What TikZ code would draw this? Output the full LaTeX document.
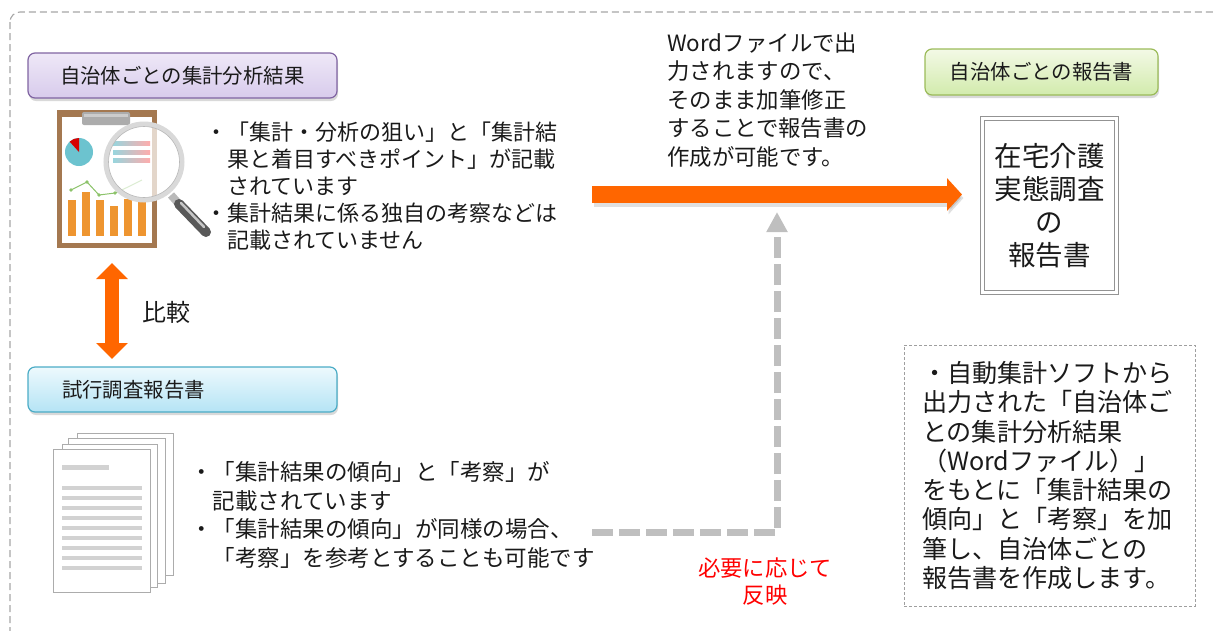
\documentclass[tikz,border=0pt]{standalone}
\usepackage{fontspec}
\newfontfamily\jp{Noto Sans CJK JP}
\usetikzlibrary{arrows.meta,shadows,calc}

\definecolor{orangeA}{HTML}{FF6600}
\definecolor{frameG}{HTML}{A6A6A6}
\definecolor{connG}{HTML}{BFBFBF}
\definecolor{purpB}{HTML}{8064A2}
\definecolor{purpT}{HTML}{EEE8F7}
\definecolor{purpM}{HTML}{D8CBEC}
\definecolor{blueB}{HTML}{4BACC6}
\definecolor{blueT}{HTML}{EDF9FD}
\definecolor{blueM}{HTML}{B5E4F5}
\definecolor{grnB}{HTML}{9BBB59}
\definecolor{grnT}{HTML}{F3F9E6}
\definecolor{grnM}{HTML}{D2EBAC}
\definecolor{boardC}{HTML}{A47850}
\definecolor{barC}{HTML}{EE9530}
\definecolor{pieC}{HTML}{6CC3CF}
\definecolor{lineC}{HTML}{8CC36A}
\definecolor{inkC}{HTML}{1A1A1A}

\tikzset{
  frame/.style={draw=frameG, line width=1.1pt, dash pattern=on 7pt off 4pt, rounded corners=10pt},
  titlebox/.style={rounded corners=7pt, line width=1.2pt, minimum height=45pt,
    drop shadow={shadow xshift=1pt, shadow yshift=-3pt, opacity=0.3},
    font=\jp\fontsize{20.4}{24}\selectfont, text=inkC},
  bodytxt/.style={inner sep=0pt, align=left, text=inkC},
  bigarrow/.style={line width=#1, orangeA},
  page/.style={fill=white, draw=gray!65, line width=0.8pt},
  pageline/.style={fill=gray!35},
}

\begin{document}
\begin{tikzpicture}[x=1pt, y=-1pt]
\useasboundingbox (0,0) rectangle (1214,630);
\clip (0,0) rectangle (1214,630);

% outer dashed frame
\draw[frame] (10,12) rectangle (1240,660);

% ---- title boxes
\node[titlebox, draw=purpB, top color=purpT, bottom color=purpM,
      inner xsep=32pt, text width=245pt, align=left] (tA) at (182.5,75.5) {自治体ごとの集計分析結果};
\node[titlebox, draw=blueB, top color=blueT, bottom color=blueM,
      inner xsep=34pt, text width=241pt, align=left] (tB) at (182.5,389.5) {試行調査報告書};
\node[titlebox, draw=grnB, top color=grnT, bottom color=grnM,
      minimum width=233pt, minimum height=46pt] (tC) at (1041.5,72) {自治体ごとの報告書};

% ---- clipboard with charts and magnifier
\fill[boardC] (57,110) rectangle (157,248);
\fill[white] (62,117) rectangle (152,243);
\fill[gray!65, rounded corners=2pt] (82,112) rectangle (130,125);
\fill[gray!40] (84,114) rectangle (128,117);
\fill[pieC] (79,152) circle (14);
\fill[red!85!black] (79,152) -- ++(270:14) arc[start angle=270, end angle=228, radius=14] -- cycle;
\foreach \xa/\xb/\yt in {68/76/200, 82/90/192, 96/104/200, 110/118/206, 124/132/199, 138/146/202}
  \fill[barC] (\xa,\yt) rectangle (\xb,236);
\draw[lineC, line width=1pt] (71,190) -- (87,182) -- (99,195) -- (115,193) -- (128,187) -- (142,180);
\foreach \p in {(71,190),(87,182),(99,195),(115,193)}
  \fill[lineC] \p circle (1.8);
% magnifier
\draw[gray!55, line width=8pt] (171,195) -- (179,204);
\draw[gray!70!black, line width=10pt, line cap=round] (179,204) -- (206,232);
\draw[gray!45, line width=2.5pt, line cap=round] (181,203) -- (204,227);
\fill[white, opacity=0.7] (144,162) circle (38);
\shade[left color=pieC!70, right color=pink!90!red] (113,141) rectangle (150,145);
\shade[left color=pieC!70, right color=pink!90!red] (113,150) rectangle (150,154);
\shade[left color=pieC!70, right color=pink!90!red] (113,158) rectangle (150,162);
\draw[gray!30, line width=5pt] (144,162) circle (38);
\draw[gray!55, line width=0.6pt] (144,162) circle (35.5);

% ---- stacked report pages
\filldraw[page] (77,433) rectangle (173,575);
\filldraw[page] (68,438) rectangle (165,583);
\filldraw[page] (62,444) rectangle (157,587);
\filldraw[page] (53,449) rectangle (150,592);
\fill[pageline] (62,465) rectangle (109,470);
\foreach \yy in {486,496,506,516,526,536,546,556,566}
  \fill[pageline] (62,\yy) rectangle (142,\yy+4);

% ---- text blocks
\node[bodytxt, anchor=west, font=\jp\fontsize{22}{27}\selectfont] (tx1) at (205,186)
  {・「集計・分析の狙い」と「集計結\\\hspace*{1em}果と着目すべきポイント」が記載\\\hspace*{1em}されています\\・集計結果に係る独自の考察などは\\\hspace*{1em}記載されていません};
\node[bodytxt, anchor=west, font=\jp\fontsize{22.5}{28.7}\selectfont] (tx2) at (190,515)
  {・「集計結果の傾向」と「考察」が\\\hspace*{1em}記載されています\\・「集計結果の傾向」が同様の場合、\\\hspace*{1em}「考察」を参考とすることも可能です};
\node[bodytxt, anchor=west, font=\jp\fontsize{22.4}{28.5}\selectfont] (tx3) at (667,100)
  {Wordファイルで出\\力されますので、\\そのまま加筆修正\\することで報告書の\\作成が可能です。};
\node[bodytxt, font=\jp\fontsize{24}{28}\selectfont] (cmp) at (166,312) {比較};
\node[bodytxt, align=center, text=red, font=\jp\fontsize{22.3}{27}\selectfont] (refl) at (765,582) {必要に応じて\\反映};

% ---- final report box
\node[draw=gray!85, double, double distance=3pt, line width=0.8pt,
      minimum width=134pt, minimum height=174pt, align=center, text=inkC,
      font=\jp\fontsize{27.5}{33}\selectfont] (rep) at (1049.5,205.5)
  {在宅介護\\実態調査\\の\\報告書};

% ---- note box
\node[draw=gray!75, line width=0.9pt, dash pattern=on 3pt off 2pt,
      minimum height=261pt, inner xsep=18pt, text width=255pt, align=left, text=inkC,
      font=\jp\fontsize{25.1}{29.3}\selectfont] (note) at (1049.5,475.5)
  {・自動集計ソフトから\\出力された「自治体ご\\との集計分析結果\\（Wordファイル）」\\をもとに「集計結果の\\傾向」と「考察」を加\\筆し、自治体ごとの\\報告書を作成します。};

% ---- connectors
\coordinate (vT) at (112,263);
\coordinate (vB) at (112,359);
\draw[bigarrow=14pt, {Triangle[length=16pt,width=31pt]}-{Triangle[length=16pt,width=31pt]}] (vT) -- (vB);

\coordinate (oS) at (592,194.5);
\coordinate (oE) at (962,194.5);
\draw[line width=17pt, black, opacity=0.12, -{Triangle[length=15pt,width=32pt]}] ([shift={(1.5,3.5)}]oS) -- ([shift={(1.5,3.5)}]oE);
\draw[bigarrow=17pt, -{Triangle[length=15pt,width=32pt]}] (oS) -- (oE);

\coordinate (gS) at (592,532);
\coordinate (gC) at (777,532);
\coordinate (gE) at (777,212);
\draw[connG, line width=7pt, dash pattern=on 21pt off 6pt, -{Triangle[length=20pt,width=20pt]}] (gS) -- (gC) -- (gE);

\end{tikzpicture}
\end{document}
